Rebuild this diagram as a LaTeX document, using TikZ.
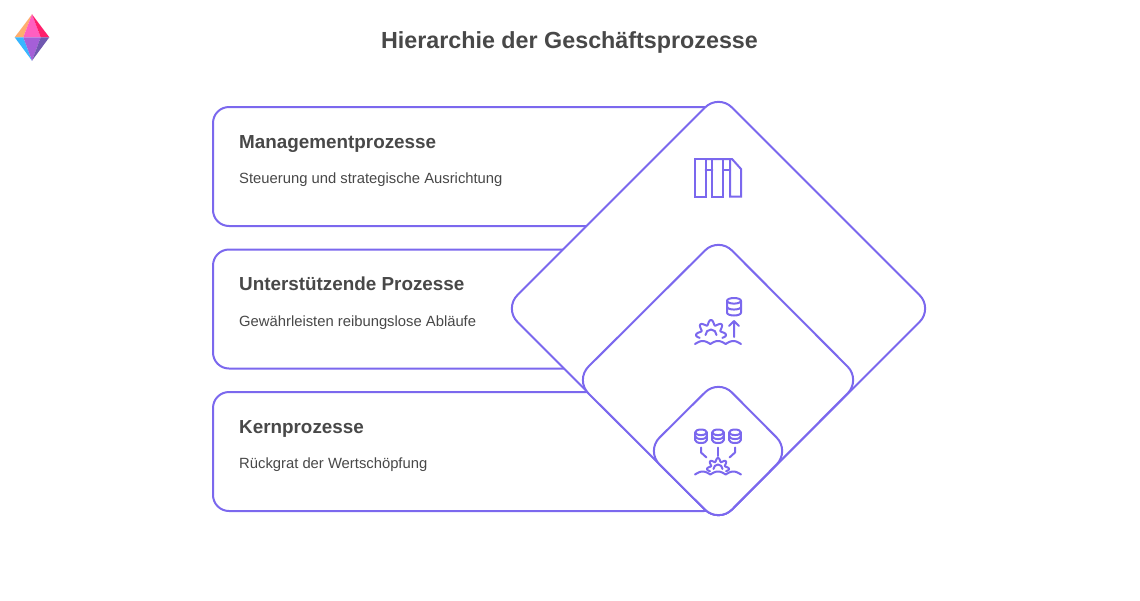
\documentclass[tikz,border=0pt]{standalone}
\usepackage{fontspec}
\setmainfont{Liberation Sans}
\definecolor{line}{HTML}{7B68EE}
\definecolor{txt}{HTML}{484848}
\tikzset{
  x=1pt,y=-1pt,
  outline/.style={draw=line,line width=2pt,fill=white,rounded corners=#1},
  ico/.style={draw=line,line width=2pt,line cap=round,line join=round},
  title/.style={anchor=base,text=txt,font=\fontsize{23.3}{28}\selectfont\bfseries,inner sep=0pt},
  head/.style={anchor=base west,text=txt,font=\fontsize{18.85}{24}\selectfont\bfseries,inner sep=0pt},
  sub/.style={anchor=base west,text=txt,font=\fontsize{14.8}{18}\selectfont,inner sep=0pt},
}
\newcommand{\dbicon}[4]{% cx, top, bottom, half width
  \draw[ico] (#1,{#2+2.8}) ellipse ({#4} and 2.8);
  \draw[ico] ({#1-#4},{#2+2.8}) -- ({#1-#4},{#3-2.8}) arc[start angle=180,end angle=360,x radius=#4,y radius=-2.8] -- ({#1+#4},{#2+2.8});
  \draw[ico] ({#1-#4},{(#2+#3)/2}) arc[start angle=180,end angle=360,x radius=#4,y radius=-2.8];
}
\newcommand{\waveicon}[2]{% y, x start (46 wide)
  \draw[ico] plot[domain=0:46,samples=70,smooth] ({#2+\x},{#1-3*abs(sin(\x*180/15.33))});
}
\newcommand{\gearicon}[6]{% cx, cy, outer r, inner r, start, end
  \draw[ico] plot[domain=#5:#6,samples=110,smooth] ({#1+(#3)*(0.84+0.16*cos(8*\x))*cos(\x)},{#2-(#3)*(0.84+0.16*cos(8*\x))*sin(\x)});
  \draw[ico] ({#1-#4},#2) arc[start angle=180,end angle=360,x radius=#4,y radius=#4];
}
\begin{document}
\begin{tikzpicture}
\useasboundingbox (0,0) rectangle (1140,600);
% logo
\fill[fill={rgb,255:red,255;green,173;blue,110}] (32,14.3) -- (14.7,37.3) -- (23.3,37.3) -- cycle;
\fill[fill={rgb,255:red,255;green,95;blue,192}] (32,14.3) -- (23.3,37.3) -- (40.7,37.3) -- cycle;
\fill[fill={rgb,255:red,255;green,31;blue,107}] (32,14.3) -- (40.7,37.3) -- (49.3,37.3) -- cycle;
\fill[fill={rgb,255:red,56;green,182;blue,255}] (14.7,37.3) -- (23.3,37.3) -- (32,60.7) -- cycle;
\fill[fill={rgb,255:red,165;green,95;blue,216}] (23.3,37.3) -- (40.7,37.3) -- (32,60.7) -- cycle;
\fill[fill={rgb,255:red,112;green,88;blue,176}] (40.7,37.3) -- (49.3,37.3) -- (32,60.7) -- cycle;
% title
\node[title] (titel) at (569.5,48.5) {Hierarchie der Geschäftsprozesse};
% bars
\draw[outline=16] (213,107) rectangle (720,226);
\draw[outline=16] (213,249.5) rectangle (720,368.5);
\draw[outline=16] (213,392) rectangle (720,511);
% diamonds
\draw[outline=19] (718.5,94) -- (933,308.5) -- (718.5,523) -- (504,308.5) -- cycle;
\draw[outline=19] (718.5,237) -- (861,380) -- (718.5,523) -- (575,380) -- cycle;
\draw[outline=19] (718.5,379) -- (790,451) -- (718.5,523) -- (646,451) -- cycle;
% texts
\node[head] (h1) at (239,148) {Managementprozesse};
\node[sub] (s1) at (239,183) {Steuerung und strategische Ausrichtung};
\node[head] (h2) at (239,290.5) {Unterstützende Prozesse};
\node[sub] (s2) at (239,326) {Gewährleisten reibungslose Abläufe};
\node[head] (h3) at (239,433) {Kernprozesse};
\node[sub] (s3) at (239,468.5) {Rückgrat der Wertschöpfung};
% icon 1
\draw[ico,line join=miter] (695,159) rectangle (705.7,196.7);
\draw[ico,line join=miter] (712.3,159) rectangle (723.3,196.7);
\draw[ico,line join=miter] (705.7,159) -- (732,159) -- (741,169) -- (741,196.7) -- (730,196.7) -- (730,159);
\draw[ico] (705.7,170) -- (712.3,170) (723.3,170) -- (730,170);
% icon 2
\dbicon{734}{298}{315.5}{7}
\draw[ico] (734,337) -- (734,321) (729,326) -- (734,321) -- (739,326);
\gearicon{711}{335}{15}{5.5}{-14}{194}
\waveicon{344}{695}
% icon 3
\dbicon{701}{429.5}{443}{5.8}
\dbicon{718}{429.5}{443}{5.8}
\dbicon{735}{429.5}{443}{5.8}
\draw[ico] (701,447.5) -- (701,452.5) -- (706.5,457.5);
\draw[ico] (718,447.5) -- (718,456);
\draw[ico] (735,447.5) -- (735,452.5) -- (729.5,457.5);
\gearicon{718}{469}{11}{4.5}{-15}{195}
\waveicon{474.5}{695}
\end{tikzpicture}
\end{document}
